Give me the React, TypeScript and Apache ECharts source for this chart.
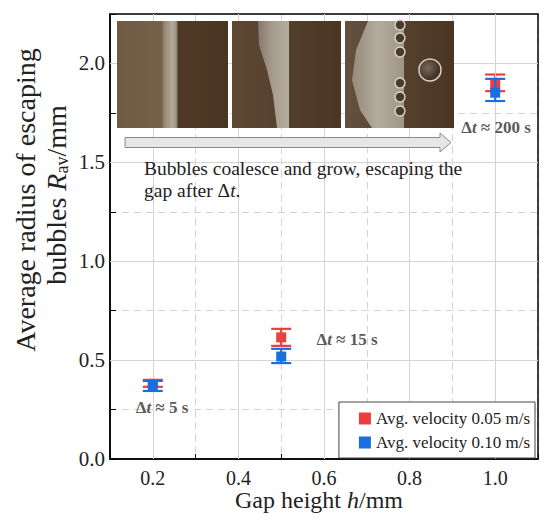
import { useEffect, useRef } from "react";
import * as echarts from "echarts";

const xMajorTicks = [0.2, 0.4, 0.6, 0.8, 1.0];
const yMajorTicks = [0.5, 1.0, 1.5, 2.0];
const gapHeights = [0.2, 0.5, 1.0];
const redMean = [0.38, 0.615, 1.894];
const redLow = [0.365, 0.572, 1.86];
const redHigh = [0.4, 0.658, 1.944];
const blueMean = [0.37, 0.518, 1.852];
const blueLow = [0.344, 0.485, 1.81];
const blueHigh = [0.395, 0.557, 1.922];
const seriesNames = ["Avg. velocity 0.05 m/s", "Avg. velocity 0.10 m/s"];
const deltaTimes = ["5 s", "15 s", "200 s"];

const RED = "#ea3f3d";
const BLUE = "#1a6fdf";
const FONT = "'Liberation Serif', 'Times New Roman', serif";
const PZ = 15;

function errorBars(low: number[], high: number[]) {
  return gapHeights.map((x, i) => [x, low[i], high[i]]);
}

function errorSeries(name: string, low: number[], high: number[], color: string, z: number) {
  return {
    name,
    type: "custom",
    z,
    encode: { x: 0, y: [1, 2] },
    data: errorBars(low, high),
    renderItem: (_params: any, api: any) => {
      const x = api.value(0);
      const pLo = api.coord([x, api.value(1)]);
      const pHi = api.coord([x, api.value(2)]);
      const hw = 10;
      const st = { stroke: color, lineWidth: 2.2 };
      return {
        type: "group",
        children: [
          { type: "line", shape: { x1: pLo[0], y1: pLo[1], x2: pHi[0], y2: pHi[1] }, style: st },
          { type: "line", shape: { x1: pLo[0] - hw, y1: pLo[1], x2: pLo[0] + hw, y2: pLo[1] }, style: st },
          { type: "line", shape: { x1: pHi[0] - hw, y1: pHi[1], x2: pHi[0] + hw, y2: pHi[1] }, style: st },
        ],
      };
    },
  };
}

function annotation(text: string, x: number, y: number) {
  return {
    type: "text",
    x,
    y,
    z: 20,
    style: {
      text: `{d|Δ}{t|t}{d| ≈ ${text}}`,
      align: "center",
      verticalAlign: "middle",
      rich: {
        d: { fontFamily: FONT, fontSize: 17, fontWeight: "bold", fill: "#5a5a5a" },
        t: { fontFamily: FONT, fontSize: 17, fontWeight: "bold", fontStyle: "italic", fill: "#5a5a5a" },
      },
    },
  };
}

function photos() {
  const lg = (stops: [number, string][]) => ({
    type: "linear",
    x: 0,
    y: 0,
    x2: 1,
    y2: 0,
    colorStops: stops.map(([offset, color]) => ({ offset, color })),
  });
  const children: any[] = [];
  // photo 1
  children.push({
    type: "rect",
    z: PZ,
    shape: { x: 117, y: 21, width: 111, height: 107 },
    style: {
      fill: lg([
        [0, "#6f5a44"],
        [0.4, "#75604a"],
        [0.43, "#978a77"],
        [0.5, "#b3a999"],
        [0.535, "#9c9282"],
        [0.55, "#503a26"],
        [1, "#4a3522"],
      ]),
    },
  });
  // photo 2
  children.push({
    type: "rect",
    z: PZ,
    shape: { x: 232, y: 21, width: 109, height: 107 },
    style: { fill: lg([[0, "#5e4834"], [0.5, "#55402d"], [1, "#4a3522"]]) },
  });
  children.push({
    type: "polygon",
    z: PZ + 1,
    shape: { points: [[258, 21], [289, 21], [289, 128], [277, 128], [273, 95], [267, 70], [259, 45]] },
    style: { fill: lg([[0, "#85796a"], [0.5, "#a89e8f"], [1, "#b7ad9f"]]) },
  });
  // photo 3
  children.push({
    type: "rect",
    z: PZ,
    shape: { x: 345, y: 21, width: 109, height: 107 },
    style: { fill: lg([[0, "#655040"], [0.5, "#574230"], [1, "#4a3522"]]) },
  });
  children.push({
    type: "polygon",
    z: PZ + 1,
    shape: { points: [[368, 21], [404, 21], [404, 128], [372, 128], [360, 110], [352, 80], [356, 50]] },
    style: { fill: lg([[0, "#958a7a"], [0.5, "#b4ab9d"], [1, "#a09686"]]) },
  });
  [25, 38, 52, 83, 97, 111].forEach((cy) => {
    children.push({
      type: "circle",
      z: PZ + 2,
      shape: { cx: 400, cy, r: 5 },
      style: { fill: "#4a3a2c", stroke: "#d9d1c5", lineWidth: 1.5 },
    });
  });
  children.push({
    type: "circle",
    z: PZ + 2,
    shape: { cx: 430, cy: 70, r: 11 },
    style: {
      fill: {
        type: "radial",
        x: 0.4,
        y: 0.4,
        r: 0.7,
        colorStops: [
          { offset: 0, color: "#7a6a5c" },
          { offset: 0.8, color: "#3e2f22" },
          { offset: 1, color: "#cfc6ba" },
        ],
      },
      stroke: "#d8d0c4",
      lineWidth: 1.5,
    },
  });
  // arrow
  children.push({
    type: "polygon",
    z: PZ,
    shape: { points: [[125, 137.5], [440, 137.5], [440, 133], [451, 142.5], [440, 152], [440, 147.5], [125, 147.5]] },
    style: { fill: "#e6e6e6", stroke: "#8a8a8a", lineWidth: 1 },
  });
  // caption
  children.push({
    type: "text",
    z: PZ,
    x: 144,
    y: 157,
    style: {
      text: "{a|Bubbles coalesce and grow, escaping the}\n{a|gap after Δ}{i|t}{a|.}",
      align: "left",
      verticalAlign: "top",
      rich: {
        a: { fontFamily: FONT, fontSize: 19.5, fill: "#222", lineHeight: 22 },
        i: { fontFamily: FONT, fontSize: 19.5, fontStyle: "italic", fill: "#222", lineHeight: 22 },
      },
    },
  });
  return children;
}

export default function App() {
  const ref = useRef<HTMLDivElement>(null);
  useEffect(() => {
    if (!ref.current) return;
    const chart = echarts.init(ref.current, null, { renderer: "svg" });
    const gridColor = "#d4d4d4";
    chart.setOption({
      animation: false,
      backgroundColor: "#fff",
      grid: { left: 110, right: 12, top: 14, bottom: 61, show: true, borderColor: "#000", borderWidth: 1.5, z: 3 },
      xAxis: {
        type: "value",
        min: 0.1,
        max: 1.1,
        interval: 0.1,
        axisLine: { show: true, onZero: false, lineStyle: { color: "#000", width: 1.5 } },
        axisTick: { show: true, inside: true, length: 5, lineStyle: { color: "#000" } },
        axisLabel: {
          margin: 9,
          fontFamily: FONT,
          fontSize: 20,
          color: "#222",
          formatter: (v: number) => (Math.round(v * 10) % 2 === 0 ? v.toFixed(1) : ""),
        },
        splitLine: { show: true, lineStyle: { color: gridColor, type: [7, 5], width: 1 } },
      },
      yAxis: {
        type: "value",
        min: 0,
        max: 2.25,
        interval: 0.25,
        axisLine: { show: true, lineStyle: { color: "#000", width: 1.5 } },
        axisTick: { show: true, inside: true, length: 6, lineStyle: { color: "#000" } },
        axisLabel: {
          margin: 5,
          fontFamily: FONT,
          fontSize: 21,
          color: "#222",
          formatter: (v: number) => (Math.round(v * 100) % 50 === 0 ? v.toFixed(1) : ""),
        },
        splitLine: { show: true, lineStyle: { color: gridColor, type: [7, 5], width: 1 } },
      },
      legend: {
        data: seriesNames,
        orient: "vertical",
        right: 15,
        top: 402,
        icon: "rect",
        itemWidth: 12,
        itemHeight: 12,
        itemGap: 7,
        padding: [8, 5, 7, 20],
        borderColor: "#444",
        borderWidth: 1,
        borderRadius: 0,
        backgroundColor: "#fff",
        textStyle: { fontFamily: FONT, fontSize: 17, color: "#222" },
        z: 20,
      },
      graphic: [
        ...photos(),
        annotation(deltaTimes[0], 162, 407),
        annotation(deltaTimes[1], 347, 339),
        annotation(deltaTimes[2], 496, 127),
        {
          type: "text",
          x: 319,
          y: 500,
          style: {
            text: "{a|Gap height }{i|h}{a|/mm}",
            align: "center",
            verticalAlign: "middle",
            rich: {
              a: { fontFamily: FONT, fontSize: 24, fill: "#222" },
              i: { fontFamily: FONT, fontSize: 24, fontStyle: "italic", fill: "#222" },
            },
          },
        },
        {
          type: "text",
          x: 25,
          y: 200,
          rotation: Math.PI / 2,
          style: {
            text: "Average radius of escaping",
            align: "center",
            verticalAlign: "middle",
            fontFamily: FONT,
            fontSize: 28,
            fill: "#222",
          },
        },
        {
          type: "text",
          x: 56,
          y: 195,
          rotation: Math.PI / 2,
          style: {
            text: "{a|bubbles }{i|R}{s|av}{a|/mm}",
            align: "center",
            verticalAlign: "middle",
            rich: {
              a: { fontFamily: FONT, fontSize: 28, fill: "#222" },
              i: { fontFamily: FONT, fontSize: 28, fontStyle: "italic", fill: "#222" },
              s: { fontFamily: FONT, fontSize: 18, fill: "#222", padding: [12, 0, 0, 0] },
            },
          },
        },
      ],
      series: [
        {
          name: "gridMajor",
          type: "line",
          data: [],
          z: 1,
          markLine: {
            silent: true,
            symbol: ["none", "none"],
            label: { show: false },
            lineStyle: { color: gridColor, type: "solid", width: 1 },
            data: [
              ...xMajorTicks.map((v) => ({ xAxis: v })),
              ...yMajorTicks.map((v) => ({ yAxis: v })),
            ],
          },
        },
        errorSeries("errRed", redLow, redHigh, RED, 4),
        {
          name: seriesNames[0],
          type: "scatter",
          symbol: "rect",
          symbolSize: 10,
          z: 5,
          itemStyle: { color: RED, opacity: 1 },
          data: gapHeights.map((x, i) => [x, redMean[i]]),
        },
        errorSeries("errBlue", blueLow, blueHigh, BLUE, 6),
        {
          name: seriesNames[1],
          type: "scatter",
          symbol: "rect",
          symbolSize: 10,
          z: 7,
          itemStyle: { color: BLUE, opacity: 1 },
          data: gapHeights.map((x, i) => [x, blueMean[i]]),
        },
      ],
    });
    return () => chart.dispose();
  }, []);
  return <div ref={ref} style={{ position: "absolute", left: 0, top: 0, width: 550, height: 520 }} />;
}
